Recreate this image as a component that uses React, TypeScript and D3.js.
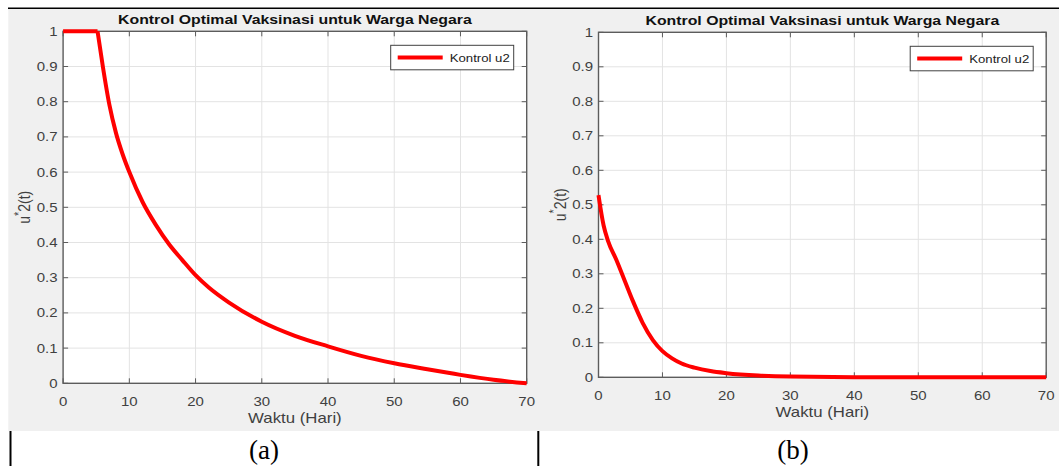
import { useEffect, useRef } from 'react';
import * as d3 from 'd3';

const TITLE = 'Kontrol Optimal Vaksinasi untuk Warga Negara';
const X_LABEL = 'Waktu (Hari)';
const LEGEND_LABEL = 'Kontrol u2';
const PANEL_TAGS = ['(a)', '(b)'];

const xTicks = [0, 10, 20, 30, 40, 50, 60, 70];
const yTicks = [0, 0.1, 0.2, 0.3, 0.4, 0.5, 0.6, 0.7, 0.8, 0.9, 1];

// (a) control u2, saturated at 1 for the first days
const tA = [0, 5.2, 6, 7, 8, 9, 10, 12, 14, 16, 18, 20, 22, 25, 30, 35, 40, 45, 50, 55, 60, 65, 70];
const uA = [1, 1, 0.9, 0.79, 0.71, 0.65, 0.6, 0.515, 0.45, 0.395, 0.35, 0.307, 0.272, 0.23, 0.175, 0.135, 0.105, 0.078, 0.057, 0.04, 0.024, 0.01, 0];
const flatEndA = 1;

// (b) control u2
const tB = [0, 0.8, 1.5, 2.8, 4.1, 5.4, 6.9, 8.5, 10, 11.5, 13, 15, 17.5, 20, 25, 30, 40, 50, 60, 70];
const uB = [0.528, 0.44, 0.395, 0.34, 0.28, 0.22, 0.158, 0.108, 0.076, 0.055, 0.04, 0.028, 0.018, 0.012, 0.005, 0.002, 0.0005, 0, 0, 0];
const flatEndB = 0;

const W = 1059;
const H = 466;
const SX = 1.2; // the figure is stretched horizontally
const FONT = '"Liberation Sans", Arial, sans-serif';

interface Panel {
    left: number;
    right: number;
    top: number;
    bottom: number;
    t: number[];
    u: number[];
    flatEnd: number;
    tagX: number;
}

const panels: Panel[] = [
    { left: 63.1, right: 526.7, top: 31.3, bottom: 383.3, t: tA, u: uA, flatEnd: flatEndA, tagX: 264 },
    { left: 598.5, right: 1046.2, top: 32.3, bottom: 377.3, t: tB, u: uB, flatEnd: flatEndB, tagX: 793 },
];

function stretchedText(
    g: d3.Selection<SVGGElement, unknown, null, undefined>,
    x: number, y: number, text: string, size: number,
    anchor = 'middle', fill = '#404040', weight = 'normal', rotate = 0,
) {
    return g.append('text')
        .attr('transform', `translate(${x},${y}) rotate(${rotate}) scale(${rotate ? 1 : SX},${rotate ? SX : 1})`)
        .attr('text-anchor', anchor)
        .attr('font-family', FONT)
        .attr('font-size', size)
        .attr('font-weight', weight)
        .attr('fill', fill)
        .text(text);
}

export default function App() {
    const svgRef = useRef<SVGSVGElement>(null);

    useEffect(() => {
        if (!svgRef.current) return;
        const svg = d3.select(svgRef.current);
        svg.selectAll('*').remove();

        // figure background + document table lines
        svg.append('rect').attr('x', 8.3).attr('y', 9).attr('width', W - 8.3).attr('height', 422).attr('fill', '#f0f0f0');
        svg.append('line').attr('x1', 8).attr('x2', W).attr('y1', 8.3).attr('y2', 8.3)
            .attr('stroke', '#000').attr('stroke-width', 1.5);
        [10.5, 538.3].forEach(x => {
            svg.append('line').attr('x1', x).attr('x2', x).attr('y1', 431).attr('y2', H)
                .attr('stroke', '#000').attr('stroke-width', 2);
        });

        panels.forEach((p, i) => {
            const g = svg.append('g');
            const x = d3.scaleLinear().domain([0, 70]).range([p.left, p.right]);
            const y = d3.scaleLinear().domain([0, 1]).range([p.bottom, p.top]);

            g.append('rect').attr('x', p.left).attr('y', p.top)
                .attr('width', p.right - p.left).attr('height', p.bottom - p.top).attr('fill', '#fff');

            // grid
            g.selectAll('.gx').data(xTicks.slice(1, -1)).enter().append('line')
                .attr('x1', d => x(d)).attr('x2', d => x(d)).attr('y1', p.top).attr('y2', p.bottom)
                .attr('stroke', '#e3e3e3').attr('stroke-width', 1);
            g.selectAll('.gy').data(yTicks.slice(1, -1)).enter().append('line')
                .attr('y1', d => y(d)).attr('y2', d => y(d)).attr('x1', p.left).attr('x2', p.right)
                .attr('stroke', '#e3e3e3').attr('stroke-width', 1);

            // ticks (inward, all four sides)
            const tl = 5;
            xTicks.forEach(d => {
                g.append('line').attr('x1', x(d)).attr('x2', x(d)).attr('y1', p.bottom).attr('y2', p.bottom - tl)
                    .attr('stroke', '#5c5c5c').attr('stroke-width', 1);
                g.append('line').attr('x1', x(d)).attr('x2', x(d)).attr('y1', p.top).attr('y2', p.top + tl)
                    .attr('stroke', '#5c5c5c').attr('stroke-width', 1);
            });
            yTicks.forEach(d => {
                g.append('line').attr('y1', y(d)).attr('y2', y(d)).attr('x1', p.left).attr('x2', p.left + tl)
                    .attr('stroke', '#5c5c5c').attr('stroke-width', 1);
                g.append('line').attr('y1', y(d)).attr('y2', y(d)).attr('x1', p.right).attr('x2', p.right - tl)
                    .attr('stroke', '#5c5c5c').attr('stroke-width', 1);
            });

            // box
            g.append('rect').attr('x', p.left).attr('y', p.top)
                .attr('width', p.right - p.left).attr('height', p.bottom - p.top)
                .attr('fill', 'none').attr('stroke', '#5c5c5c').attr('stroke-width', 1.4);

            // tick labels
            xTicks.forEach(d => stretchedText(g, x(d), p.bottom + 22.5, String(d), 12.5));
            yTicks.forEach(d => stretchedText(g, p.left - 5.5, y(d) + 4.5, String(d), 12.5, 'end'));

            // title & labels
            stretchedText(g, (p.left + p.right) / 2, p.top - 7.5, TITLE, 13.2, 'middle', '#111', 'bold');
            stretchedText(g, (p.left + p.right) / 2, p.bottom + 39.5, X_LABEL, 14);
            const yl = stretchedText(g, p.left - 33, (p.top + p.bottom) / 2, '', 14, 'middle', '#404040', 'normal', -90);
            yl.append('tspan').text('u');
            yl.append('tspan').attr('dy', -6).attr('font-size', 11).text('*');
            yl.append('tspan').attr('dy', 6).text('2(t)');

            // control curve
            const pts = p.t.map((t, k) => [t, p.u[k]] as [number, number]);
            const lineFlat = d3.line<[number, number]>().x(d => x(d[0])).y(d => y(d[1]));
            const lineCurve = d3.line<[number, number]>().x(d => x(d[0])).y(d => y(d[1])).curve(d3.curveMonotoneX);
            if (p.flatEnd > 0) {
                g.append('path').attr('d', lineFlat(pts.slice(0, p.flatEnd + 1)))
                    .attr('fill', 'none').attr('stroke', '#ff0000').attr('stroke-width', 4);
            }
            g.append('path').attr('d', lineCurve(pts.slice(p.flatEnd)))
                .attr('fill', 'none').attr('stroke', '#ff0000').attr('stroke-width', 4)
                .attr('stroke-linejoin', 'round');

            // legend
            const lw = 123, lh = 24.5;
            const lx = p.right - 13 - lw, ly = p.top + 14;
            g.append('rect').attr('x', lx).attr('y', ly).attr('width', lw).attr('height', lh)
                .attr('fill', '#fff').attr('stroke', '#404040').attr('stroke-width', 1);
            g.append('line').attr('x1', lx + 7).attr('x2', lx + 52).attr('y1', ly + lh / 2).attr('y2', ly + lh / 2)
                .attr('stroke', '#ff0000').attr('stroke-width', 4);
            stretchedText(g, lx + 59, ly + lh / 2 + 4, LEGEND_LABEL, 11, 'start', '#222');

            // sub-figure tag
            svg.append('text').attr('x', p.tagX).attr('y', 459).attr('text-anchor', 'middle')
                .attr('font-family', '"Liberation Serif", "Times New Roman", serif').attr('font-size', 27)
                .attr('fill', '#000').text(PANEL_TAGS[i]);
        });
    }, []);

    return (
        <div style={{ position: 'absolute', left: 0, top: 0 }}>
            <svg ref={svgRef} width={W} height={H} style={{ display: 'block', background: '#fff' }} />
        </div>
    );
}
